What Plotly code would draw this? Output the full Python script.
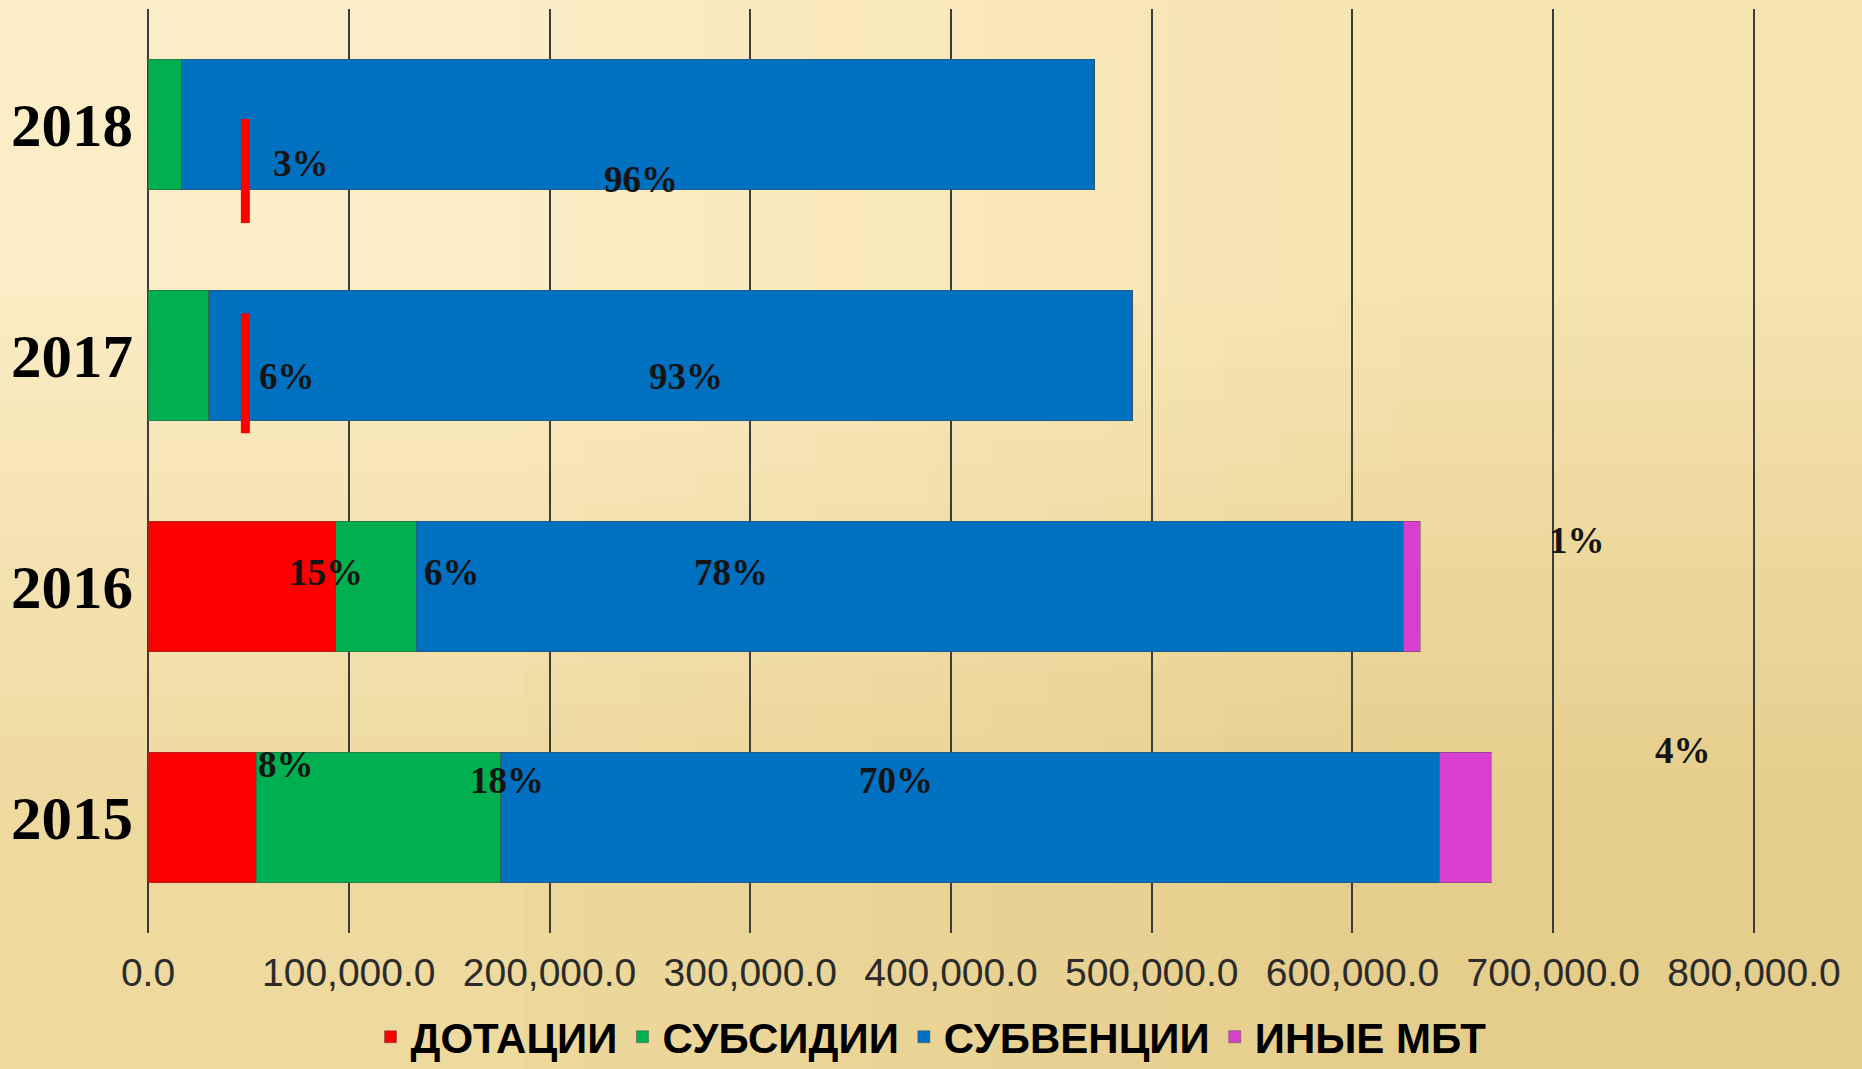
import base64
import struct
import zlib

import plotly.graph_objects as go

# Межбюджетные трансферты по годам, тыс. руб.
years = ["2015", "2016", "2017", "2018"]
dotacii = [53800, 93500, 0, 0]
subsidii = [121900, 40200, 30200, 16600]
subvencii = [467500, 491700, 460300, 455000]
inye_mbt = [26000, 8300, 0, 0]

series_names = ["ДОТАЦИИ", "СУБСИДИИ", "СУБВЕНЦИИ", "ИНЫЕ МБТ"]
series_colors = ["#FF0000", "#00B050", "#0070C0", "#D83FCF"]

# подписи долей в процентах (как на слайде)
pct_text = ["3%", "96%", "6%", "93%", "15%", "6%", "78%", "1%", "8%", "18%", "70%", "4%"]
pct_x = [76300, 245600, 69200, 268000, 88800, 151500, 290500, 711800, 68600, 178700, 372800, 764500]
pct_y = [2.83, 2.76, 1.91, 1.91, 1.06, 1.06, 1.06, 1.20, 0.23, 0.16, 0.16, 0.29]

x_ticks = list(range(0, 800001, 100000))

W, H = 1862, 1069
M_L, M_R, M_T, M_B = 148, 105, 9, 136


def gradient_png(corners):
    # 2x2 png, браузер растягивает его в плавный градиент фона
    raw = b""
    for row in corners:
        raw += b"\x00" + bytes([c for px in row for c in px])

    def chunk(tag, data):
        return struct.pack(">I", len(data)) + tag + data + struct.pack(">I", zlib.crc32(tag + data) & 0xFFFFFFFF)

    png = b"\x89PNG\r\n\x1a\n"
    png += chunk(b"IHDR", struct.pack(">IIBBBBB", 2, 2, 8, 2, 0, 0, 0))
    png += chunk(b"IDAT", zlib.compress(raw))
    png += chunk(b"IEND", b"")
    return "data:image/png;base64," + base64.b64encode(png).decode()


bg = gradient_png([[(251, 237, 198), (246, 228, 176)],
                   [(238, 217, 158), (229, 205, 140)]])

fig = go.Figure()
for name, vals, col in zip(series_names, [dotacii, subsidii, subvencii, inye_mbt], series_colors):
    fig.add_trace(go.Bar(
        y=years, x=vals, name=name, orientation="h",
        marker=dict(color=col, line=dict(color="rgba(70,70,70,0.45)", width=1)),
    ))

for t, xv, yv in zip(pct_text, pct_x, pct_y):
    fig.add_annotation(
        x=xv, y=yv, text=t, showarrow=False, xref="x", yref="y",
        font=dict(family="Liberation Serif, Times New Roman, serif", size=37,
                  color="#141414", weight="bold"),
    )

# красные отметки на слайде
for y0, y1 in [(2.574, 3.024), (1.663, 2.182)]:
    fig.add_shape(type="line", xref="x", yref="y", x0=48500, x1=48500, y0=y0, y1=y1,
                  line=dict(color="#FF0000", width=9))

pw, ph = W - M_L - M_R, H - M_T - M_B
fig.add_layout_image(
    source=bg, xref="paper", yref="paper",
    x=-M_L / pw, y=1 + M_T / ph, sizex=W / pw, sizey=H / ph,
    xanchor="left", yanchor="top", sizing="stretch", layer="below",
)

fig.update_layout(
    width=W, height=H,
    barmode="stack", bargap=0.437,
    paper_bgcolor="#F3E1A8", plot_bgcolor="rgba(0,0,0,0)",
    margin=dict(l=M_L, r=M_R, t=M_T, b=M_B, autoexpand=False),
    showlegend=True,
    legend=dict(
        orientation="h", x=0.5, xanchor="center", xref="container",
        y=0.03, yanchor="middle", yref="container",
        traceorder="normal",
        font=dict(family="Liberation Sans, Arial, sans-serif", size=42, color="#000000",
                  weight="bold"),
        itemwidth=30, tracegroupgap=0, bgcolor="rgba(0,0,0,0)",
    ),
    xaxis=dict(
        # чуть шире 800 000, чтобы последняя линия сетки не срезалась краем
        range=[0, 801500], tickvals=x_ticks,
        ticktext=[f"{v:,.1f}" for v in x_ticks],
        showgrid=True, gridcolor="#3C3C3C", gridwidth=1.5,
        zeroline=True, zerolinecolor="#3C3C3C", zerolinewidth=1.5,
        showline=False, ticks="", ticklabelstandoff=13,
        tickfont=dict(family="Liberation Sans, Arial, sans-serif", size=39, color="#2B2B2B"),
    ),
    yaxis=dict(
        categoryorder="array", categoryarray=years, range=[-0.5, 3.5],
        showgrid=False, showline=False, ticks="", ticklabelstandoff=14,
        tickfont=dict(family="Liberation Serif, Times New Roman, serif", size=61, color="#000000",
                      weight="bold"),
    ),
    font=dict(family="Liberation Sans, Arial, sans-serif"),
)

fig.write_html("out.html", config={"displayModeBar": False},
               post_script="document.body.style.margin='0';")
